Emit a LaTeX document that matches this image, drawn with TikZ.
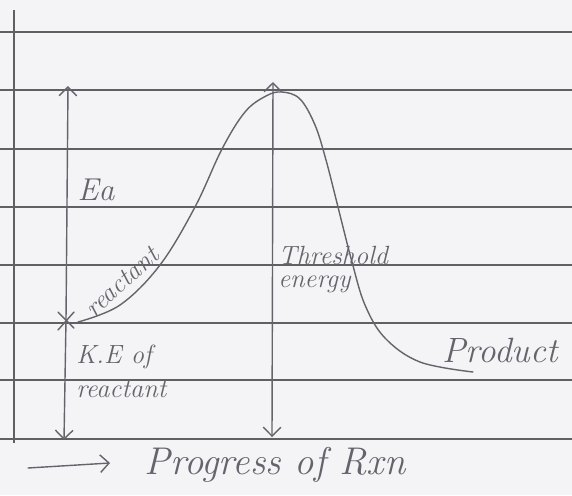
\documentclass[tikz,border=0pt]{standalone}
\usepackage{tikz}
\usetikzlibrary{arrows.meta, positioning, calc}

\definecolor{paper}{RGB}{244,244,247}
\definecolor{ruling}{RGB}{95,95,100}
\definecolor{pencil}{RGB}{100,100,108}

\tikzset{
  pen/.style={draw=pencil, line width=0.8pt, line cap=round},
  hand/.style={text=pencil, inner sep=0pt, font=\itshape\fontsize{#1}{#1}\selectfont},
  hand/.default=16,
  tipup/.style={-{Straight Barb[length=5pt, width=10pt]}},
  tipboth/.style={{Straight Barb[length=5pt, width=10pt]}-{Straight Barb[length=5pt, width=10pt]}}
}

\begin{document}
\begin{tikzpicture}[x=0.02cm, y=-0.02cm]
    \fill[paper] (0,0) rectangle (572,495);
    \useasboundingbox (0,0) rectangle (572,495);

    % ruled paper
    \foreach \y in {32,90,149,207,265,323,380,439}
        \draw[ruling, line width=0.6pt] (0,\y) -- (572,\y);
    \draw[ruling, line width=0.7pt] (14,10) -- (14,443);

    % Ea and K.E arrows
    \coordinate (eatop) at (68,86);
    \coordinate (eamid) at (66,320);
    \coordinate (eabot) at (64,440);
    \draw[pen, tipup] (eamid) -- (eatop);
    \draw[pen, tipup] (eamid) -- (eabot);
    \draw[pen] ($(eamid)+(-8,10)$) -- ($(eamid)+(8,-8)$);
    \draw[pen] ($(eamid)+(-8,-8)$) -- ($(eamid)+(8,8)$);

    % threshold energy arrow
    \coordinate (thtop) at (273,82);
    \coordinate (thbot) at (272,437);
    \draw[pen, tipboth] (thbot) -- (thtop);

    % energy curve
    \draw[pen] plot[smooth, tension=0.6] coordinates {
        (78,322) (120,305) (160,265) (195,207) (222,149) (245,112)
        (266,96) (282,92) (300,99) (315,125) (326,160) (338,207)
        (352,262) (365,305) (385,338) (420,362) (473,372)};

    % labels
    \node[hand=18] (ea) at (96,190) {Ea};
    \node[hand=15, rotate=42] (reactant) at (122,282) {reactant};
    \node[hand=15, align=left, anchor=north west] (threshold) at (278,246)
        {Threshold\\[-2pt]energy};
    \node[hand=20] (product) at (500,350) {Product};
    \node[hand=15, align=left, anchor=north west] (ke) at (76,345)
        {K.E of\\[4pt]reactant};

    \coordinate (pa) at (28,468);
    \coordinate (pb) at (110,463);
    \draw[pen, tipup] (pa) -- (pb);
    \node[hand=22] (progress) at (275,465) {Progress of Rxn};
\end{tikzpicture}
\end{document}
